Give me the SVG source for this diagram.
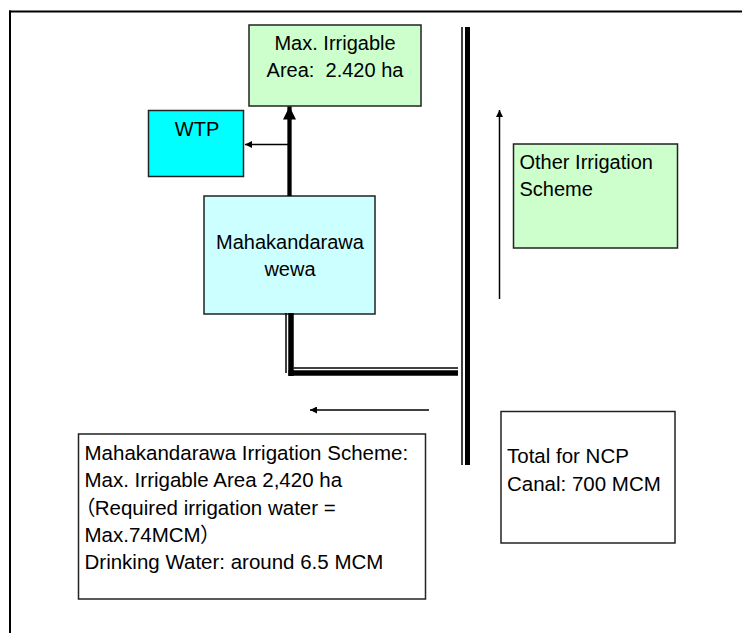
<svg xmlns="http://www.w3.org/2000/svg" width="742" height="633" viewBox="0 0 742 633">
<style>
.box{stroke:#222;stroke-width:1.5}
.t{font-family:"Liberation Sans","Noto Sans CJK JP",sans-serif;font-size:20px;fill:#000;font-feature-settings:"palt"}
.i{font-size:20.5px}
.c{text-anchor:middle}
.ln{stroke:#000;fill:none}
</style>
<defs>
<marker id="ah" viewBox="0 0 10 10" refX="10" refY="5" markerWidth="8" markerHeight="7" markerUnits="userSpaceOnUse" orient="auto">
<path d="M0,0 L10,5 L0,10 z" fill="#000"/>
</marker>
<marker id="ahb" viewBox="0 0 10 10" refX="10" refY="5" markerWidth="13" markerHeight="13" markerUnits="userSpaceOnUse" orient="auto">
<path d="M0,0 L10,5 L0,10 z" fill="#000"/>
</marker>
</defs>
<rect width="742" height="633" fill="#fff"/>
<g id="frame">
<line x1="9" y1="11.5" x2="742" y2="11.5" class="ln" stroke-width="2"/>
<line x1="10" y1="10.5" x2="10" y2="633" class="ln" stroke-width="2"/>
</g>
<g id="max-irrigable">
<rect x="249" y="25" width="172" height="81" fill="#CCFFCC" class="box"/>
<text class="t c" x="335" y="50">Max. Irrigable</text>
<text class="t c" x="335" y="77" xml:space="preserve">Area:  2.420 ha</text>
</g>
<g id="wtp">
<rect x="148.5" y="110.5" width="95" height="66" fill="#00FFFF" class="box"/>
<text class="t c" x="197" y="136">WTP</text>
</g>
<g id="mahakandarawa">
<rect x="204" y="196" width="171" height="118" fill="#CCFFFF" class="box"/>
<text class="t c" x="290" y="249">Mahakandarawa</text>
<text class="t c" x="290" y="276">wewa</text>
</g>
<g id="other-irrigation">
<rect x="513.5" y="144" width="164" height="104" fill="#CCFFCC" class="box"/>
<text class="t" x="519.5" y="169">Other Irrigation</text>
<text class="t" x="519.5" y="196">Scheme</text>
</g>
<g id="scheme-info">
<rect x="78.5" y="434" width="347" height="165" fill="#fff" class="box"/>
<text class="t i" x="84.5" y="460">Mahakandarawa Irrigation Scheme:</text>
<text class="t i" x="84.5" y="487">Max. Irrigable Area 2,420 ha</text>
<text class="t i" x="84.5" y="515">（Required irrigation water =</text>
<text class="t i" x="84.5" y="542">Max.74MCM）</text>
<text class="t i" x="84.5" y="569">Drinking Water: around 6.5 MCM</text>
</g>
<g id="ncp-total">
<rect x="501" y="411.5" width="174" height="131.5" fill="#fff" class="box"/>
<text class="t i" x="507" y="463">Total for NCP</text>
<text class="t i" x="507" y="491">Canal: 700 MCM</text>
</g>
<g id="connectors">
<line x1="289.5" y1="196" x2="289.5" y2="106.5" class="ln" stroke-width="4.3" marker-end="url(#ahb)"/>
<line x1="289.5" y1="144.5" x2="245" y2="144.5" class="ln" stroke-width="1.5" marker-end="url(#ah)"/>
<line x1="499.5" y1="299" x2="499.5" y2="110" class="ln" stroke-width="1.5" marker-end="url(#ah)"/>
<line x1="429" y1="410" x2="310" y2="410" class="ln" stroke-width="1.5" marker-end="url(#ah)"/>
<line x1="462" y1="27" x2="462" y2="465" class="ln" stroke-width="1.5"/>
<line x1="467.5" y1="27" x2="467.5" y2="465" class="ln" stroke-width="5"/>
<line x1="286" y1="313" x2="286" y2="373" class="ln" stroke-width="1.5"/>
<line x1="291" y1="313" x2="291" y2="376" class="ln" stroke-width="5.5"/>
<line x1="293.5" y1="368" x2="458" y2="368" class="ln" stroke-width="1.5"/>
<line x1="288.5" y1="373" x2="458" y2="373" class="ln" stroke-width="5.5"/>
</g>
</svg>
